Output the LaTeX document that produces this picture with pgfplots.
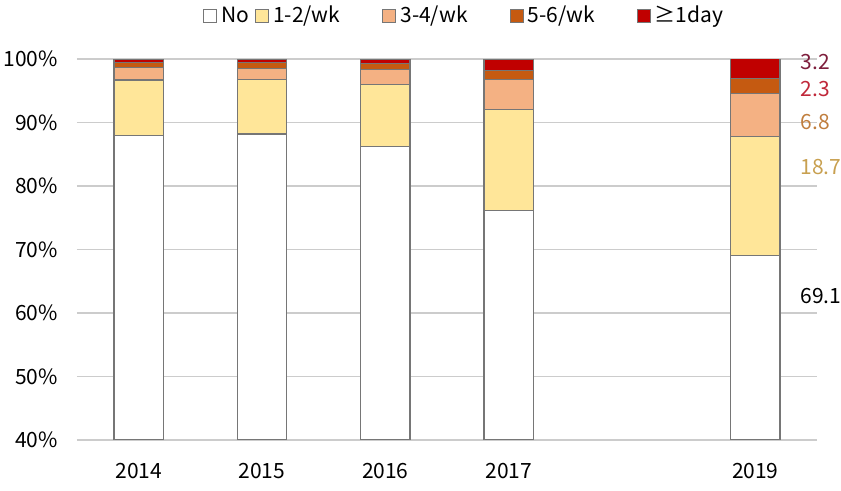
\documentclass[border=0pt]{standalone}
\usepackage{fontspec}
\setmainfont{Noto Sans CJK KR}
\usepackage{pgfplots}
\pgfplotsset{compat=1.18}
\definecolor{cNo}{HTML}{FFFFFF}
\definecolor{cA}{HTML}{FFE699}
\definecolor{cB}{HTML}{F4B183}
\definecolor{cC}{HTML}{C55A11}
\definecolor{cD}{HTML}{C00000}
\definecolor{edge}{HTML}{767676}
\definecolor{lD}{HTML}{7E1E3C}
\definecolor{lC}{HTML}{C0283A}
\definecolor{lB}{HTML}{C07E3E}
\definecolor{lA}{HTML}{C8A050}
\begin{document}
\begin{tikzpicture}[font=\fontsize{10.5}{12.6}\selectfont]
\path[use as bounding box] (-38.5pt,-25.5pt) rectangle (382pt,220pt);
\begin{axis}[
  at={(0pt,0pt)}, anchor=south west,
  scale only axis, width=370pt, height=190.5pt,
  xmin=2013.5, xmax=2019.5, ymin=40, ymax=100,
  ytick={40,50,...,100},
  yticklabel={\pgfmathprintnumber{\tick}\%},
  yticklabel style={xshift=-6pt},
  xtick={2014,2015,2016,2017,2019},
  xticklabel style={/pgf/number format/1000 sep={}, yshift=-8pt},
  /pgf/number format/assume math mode=true,
  ymajorgrids, grid style={draw=black!20, line width=0.6pt},
  axis line style={draw=none}, major tick length=0pt,
  ybar stacked, bar width=0.4,
  clip mode=individual,
  every axis plot/.append style={draw=edge, line width=0.6pt},
  legend columns=-1,
  legend style={draw=none, fill=none, inner sep=0pt, at={(axis description cs:0.170,1.113)}, anchor=west,
    /tikz/every even column/.append style={column sep=1pt}},
  legend image code/.code={\draw[#1, draw=edge, line width=0.5pt] (0pt,-3.25pt) rectangle (6.5pt,3.25pt);},
]
\addplot[fill=cNo] coordinates {(2014,88.0) (2015,88.2) (2016,86.2) (2017,76.1) (2019,69.1)};
\addlegendentry{No}
\addplot[fill=cA] coordinates {(2014,8.7) (2015,8.6) (2016,9.8) (2017,15.9) (2019,18.7)};
\addlegendentry{1-2/wk\hspace*{18pt}}
\addplot[fill=cB] coordinates {(2014,1.9) (2015,1.7) (2016,2.4) (2017,4.8) (2019,6.8)};
\addlegendentry{3-4/wk\hspace*{18pt}}
\addplot[fill=cC] coordinates {(2014,0.8) (2015,0.9) (2016,0.9) (2017,1.4) (2019,2.3)};
\addlegendentry{5-6/wk\hspace*{18pt}}
\addplot[fill=cD] coordinates {(2014,0.6) (2015,0.6) (2016,0.7) (2017,1.8) (2019,3.2)};
\addlegendentry{≥1day}
\node[anchor=west, text=lD] at (axis cs:2019.31,99.5) {3.2};
\node[anchor=west, text=lC] at (axis cs:2019.31,95.3) {2.3};
\node[anchor=west, text=lB] at (axis cs:2019.31,90.1) {6.8};
\node[anchor=west, text=lA] at (axis cs:2019.31,83.0) {18.7};
\node[anchor=west, text=black] at (axis cs:2019.31,62.7) {69.1};
\end{axis}
\end{tikzpicture}
\end{document}
